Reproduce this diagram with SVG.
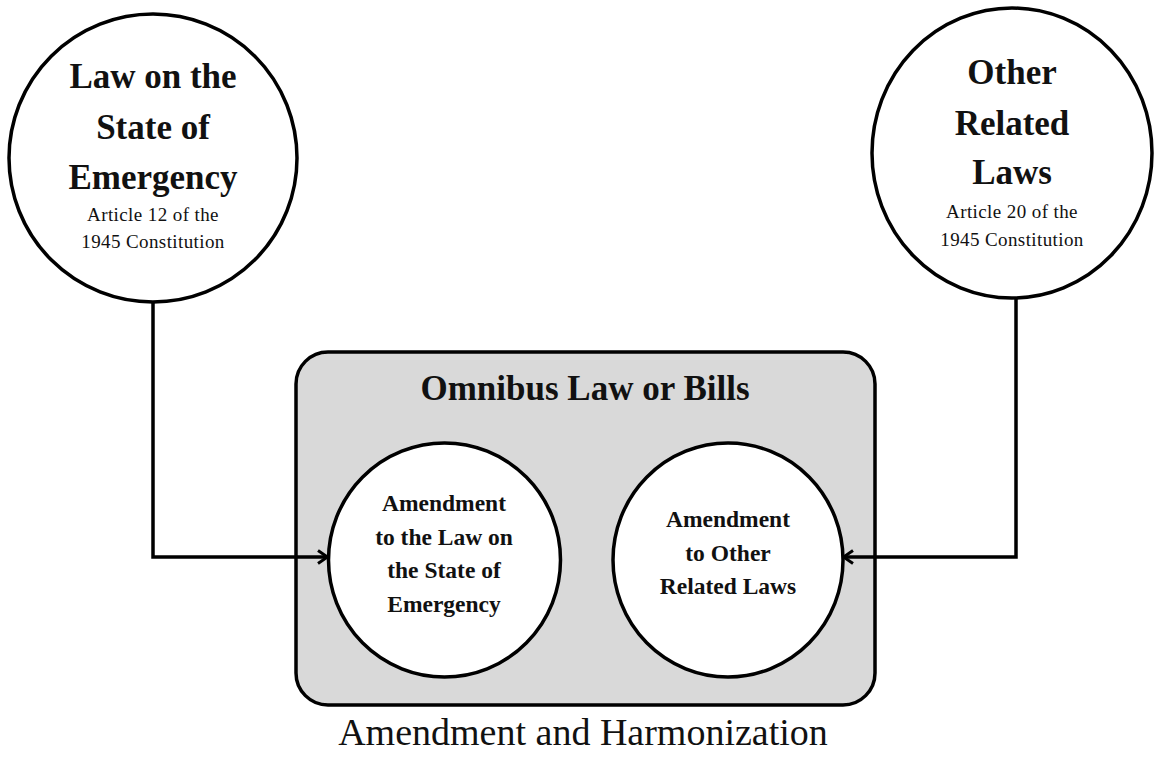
<svg xmlns="http://www.w3.org/2000/svg" width="1155" height="759" viewBox="0 0 1155 759">
<style>
.c{fill:#fff;stroke:#000;stroke-width:3.5}
.t{font-family:"Liberation Serif","Times New Roman",serif;text-anchor:middle;fill:#111}
.big{font-size:35px;font-weight:bold}
.sub{font-size:19px;letter-spacing:0.4px}
.in{font-size:23.5px;font-weight:bold}
.ln{fill:none;stroke:#000;stroke-width:3.5}
</style>
<defs>
<marker id="arr" viewBox="0 0 16 16" refX="14" refY="8" markerWidth="16" markerHeight="16" markerUnits="userSpaceOnUse" orient="auto">
<path d="M4,1.5 L13.5,8 L4,14.5" fill="none" stroke="#000" stroke-width="3"/>
</marker>
</defs>
<rect width="1155" height="759" fill="#fff"/>
<g id="omnibus">
<rect x="296" y="352" width="579" height="353" rx="32" fill="#d9d9d9" stroke="#000" stroke-width="3.5"/>
<text class="t big" x="585" y="400" style="font-size:35px">Omnibus Law or Bills</text>
</g>
<g id="connectors">
<path class="ln" d="M153,302 V557 H328" marker-end="url(#arr)"/>
<path class="ln" d="M1016,298 V557 H843" marker-end="url(#arr)"/>
</g>
<g id="law-soe">
<ellipse class="c" cx="153" cy="158" rx="144" ry="144"/>
<text class="t big" x="153" y="88">Law on the</text>
<text class="t big" x="153" y="139">State of</text>
<text class="t big" x="153" y="189">Emergency</text>
<text class="t sub" x="153" y="221">Article 12 of the</text>
<text class="t sub" x="153" y="248">1945 Constitution</text>
</g>
<g id="other-laws">
<ellipse class="c" cx="1012" cy="153" rx="140" ry="145"/>
<text class="t big" x="1012" y="84">Other</text>
<text class="t big" x="1012" y="135">Related</text>
<text class="t big" x="1012" y="184">Laws</text>
<text class="t sub" x="1012" y="218">Article 20 of the</text>
<text class="t sub" x="1012" y="246">1945 Constitution</text>
</g>
<g id="amend-soe">
<ellipse class="c" cx="444.5" cy="560" rx="116" ry="117"/>
<text class="t in" x="444" y="511">Amendment</text>
<text class="t in" x="444" y="545">to the Law on</text>
<text class="t in" x="444" y="578">the State of</text>
<text class="t in" x="444" y="612">Emergency</text>
</g>
<g id="amend-other">
<ellipse class="c" cx="728" cy="560" rx="115" ry="117"/>
<text class="t in" x="728" y="527">Amendment</text>
<text class="t in" x="728" y="561">to Other</text>
<text class="t in" x="728" y="594">Related Laws</text>
</g>
<text class="t" x="583" y="745" style="font-size:38px" id="caption">Amendment and Harmonization</text>
</svg>
